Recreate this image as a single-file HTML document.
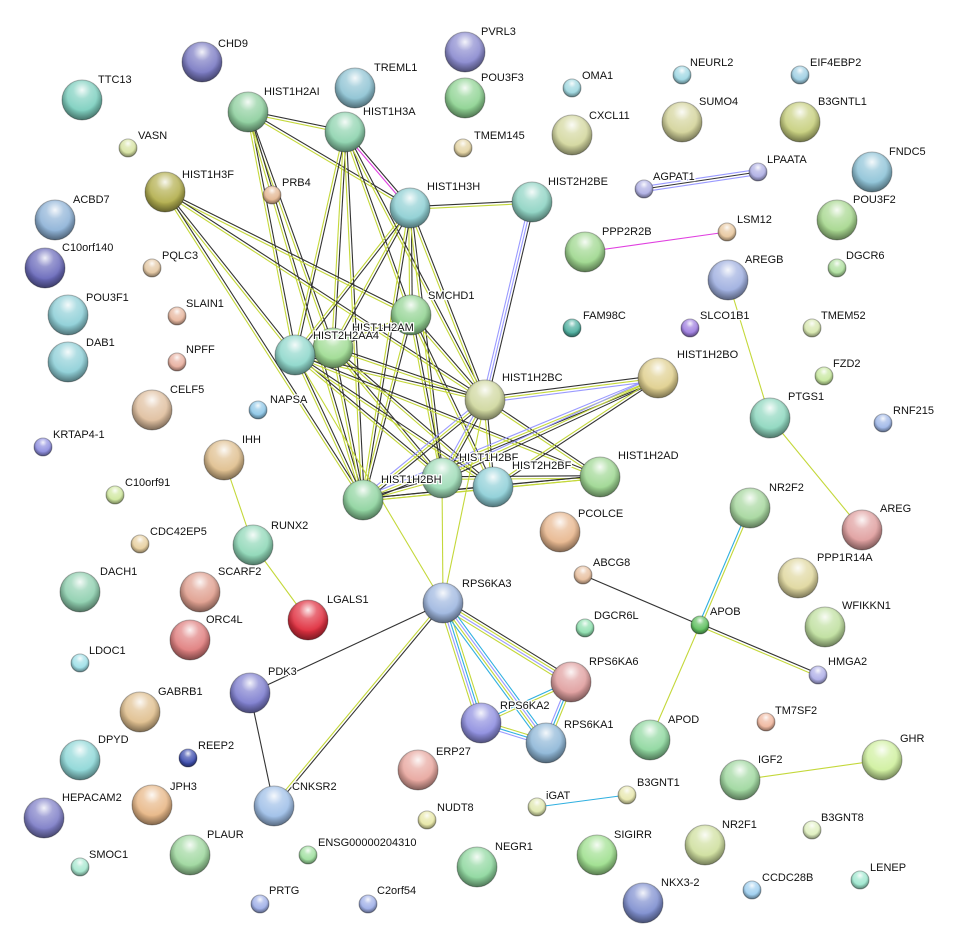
<!DOCTYPE html>
<html><head><meta charset="utf-8">
<style>
html,body{margin:0;padding:0;background:#fff;}
svg{display:block;}
text{font-family:"Liberation Sans",sans-serif;font-size:11px;fill:#111;stroke:#fff;stroke-width:2.5px;paint-order:stroke;}
</style></head>
<body>
<svg id="s" width="954" height="949" viewBox="0 0 954 949" xmlns="http://www.w3.org/2000/svg">
<defs>
<radialGradient id="hl" cx="0.5" cy="0.25" r="0.55">
<stop offset="0" stop-color="#fff" stop-opacity="0.9"/>
<stop offset="0.4" stop-color="#fff" stop-opacity="0.3"/>
<stop offset="1" stop-color="#fff" stop-opacity="0"/>
</radialGradient>
<radialGradient id="sh" cx="0.5" cy="0.4" r="0.6">
<stop offset="0.6" stop-color="#000" stop-opacity="0"/>
<stop offset="1" stop-color="#000" stop-opacity="0.45"/>
</radialGradient>
</defs>
<g id="edges"></g>
<g id="nodes"></g>
<g id="labels">
<text x="218" y="47">CHD9</text>
<text x="481" y="35">PVRL3</text>
<text x="98" y="83">TTC13</text>
<text x="374" y="71">TREML1</text>
<text x="481" y="81">POU3F3</text>
<text x="582" y="79">OMA1</text>
<text x="690" y="66">NEURL2</text>
<text x="810" y="66">EIF4EBP2</text>
<text x="264" y="95">HIST1H2AI</text>
<text x="363" y="115">HIST1H3A</text>
<text x="138" y="139">VASN</text>
<text x="474" y="139">TMEM145</text>
<text x="589" y="119">CXCL11</text>
<text x="699" y="105">SUMO4</text>
<text x="818" y="105">B3GNTL1</text>
<text x="889" y="155">FNDC5</text>
<text x="182" y="178">HIST1H3F</text>
<text x="282" y="186">PRB4</text>
<text x="427" y="190">HIST1H3H</text>
<text x="548" y="185">HIST2H2BE</text>
<text x="653" y="180">AGPAT1</text>
<text x="767" y="163">LPAATA</text>
<text x="73" y="203">ACBD7</text>
<text x="853" y="203">POU3F2</text>
<text x="602" y="235">PPP2R2B</text>
<text x="737" y="223">LSM12</text>
<text x="62" y="251">C10orf140</text>
<text x="162" y="259">PQLC3</text>
<text x="846" y="259">DGCR6</text>
<text x="745" y="263">AREGB</text>
<text x="86" y="301">POU3F1</text>
<text x="186" y="307">SLAIN1</text>
<text x="428" y="299">SMCHD1</text>
<text x="583" y="319">FAM98C</text>
<text x="700" y="319">SLCO1B1</text>
<text x="821" y="319">TMEM52</text>
<text x="352" y="331">HIST1H2AM</text>
<text x="313" y="339">HIST2H2AA4</text>
<text x="86" y="346">DAB1</text>
<text x="186" y="353">NPFF</text>
<text x="677" y="358">HIST1H2BO</text>
<text x="833" y="367">FZD2</text>
<text x="502" y="381">HIST1H2BC</text>
<text x="170" y="393">CELF5</text>
<text x="270" y="403">NAPSA</text>
<text x="788" y="400">PTGS1</text>
<text x="893" y="414">RNF215</text>
<text x="53" y="438">KRTAP4-1</text>
<text x="242" y="443">IHH</text>
<text x="459" y="461">HIST1H2BF</text>
<text x="381" y="483">HIST1H2BH</text>
<text x="512" y="469">HIST2H2BF</text>
<text x="618" y="459">HIST1H2AD</text>
<text x="769" y="491">NR2F2</text>
<text x="880" y="512">AREG</text>
<text x="125" y="486">C10orf91</text>
<text x="271" y="529">RUNX2</text>
<text x="150" y="535">CDC42EP5</text>
<text x="578" y="517">PCOLCE</text>
<text x="817" y="561">PPP1R14A</text>
<text x="100" y="575">DACH1</text>
<text x="218" y="575">SCARF2</text>
<text x="327" y="603">LGALS1</text>
<text x="593" y="566">ABCG8</text>
<text x="462" y="587">RPS6KA3</text>
<text x="710" y="615">APOB</text>
<text x="842" y="609">WFIKKN1</text>
<text x="594" y="619">DGCR6L</text>
<text x="206" y="623">ORC4L</text>
<text x="89" y="654">LDOC1</text>
<text x="589" y="665">RPS6KA6</text>
<text x="828" y="665">HMGA2</text>
<text x="268" y="675">PDK3</text>
<text x="158" y="695">GABRB1</text>
<text x="500" y="709">RPS6KA2</text>
<text x="564" y="728">RPS6KA1</text>
<text x="775" y="714">TM7SF2</text>
<text x="668" y="723">APOD</text>
<text x="98" y="743">DPYD</text>
<text x="198" y="749">REEP2</text>
<text x="900" y="742">GHR</text>
<text x="436" y="755">ERP27</text>
<text x="758" y="763">IGF2</text>
<text x="170" y="790">JPH3</text>
<text x="62" y="801">HEPACAM2</text>
<text x="292" y="790">CNKSR2</text>
<text x="546" y="799">iGAT</text>
<text x="637" y="786">B3GNT1</text>
<text x="437" y="811">NUDT8</text>
<text x="821" y="821">B3GNT8</text>
<text x="614" y="838">SIGIRR</text>
<text x="722" y="828">NR2F1</text>
<text x="207" y="838">PLAUR</text>
<text x="318" y="846">ENSG00000204310</text>
<text x="495" y="850">NEGR1</text>
<text x="89" y="858">SMOC1</text>
<text x="870" y="871">LENEP</text>
<text x="762" y="881">CCDC28B</text>
<text x="661" y="886">NKX3-2</text>
<text x="269" y="894">PRTG</text>
<text x="377" y="894">C2orf54</text>
</g>
</svg>
<script>
var N={
CHD9:[202,62,20,'#7c7cc4'],PVRL3:[465,52,20,'#8c8cd0'],TTC13:[82,100,20,'#7fd0c0'],TREML1:[355,88,20,'#90c4d4'],
POU3F3:[465,98,20,'#90d494'],OMA1:[572,88,9,'#a0d8e0'],NEURL2:[682,75,9,'#a0d8e4'],EIF4EBP2:[800,75,9,'#a0d0e4'],
H2AI:[248,112,20,'#90d0a0'],H3A:[345,132,20,'#90d4b0'],VASN:[128,148,9,'#d8e4a4'],TMEM145:[463,148,9,'#e4d4a4'],
CXCL11:[572,135,20,'#d4d8a0'],SUMO4:[682,122,20,'#d4d49c'],B3GNTL1:[800,122,20,'#c8d080'],FNDC5:[872,172,20,'#90c4d8'],
H3F:[165,192,20,'#b4b050'],PRB4:[272,195,9,'#e4b894'],H3H:[410,208,20,'#90d0d4'],H2BE:[532,202,20,'#90d4c4'],
AGPAT1:[644,189,9,'#b0b0e4'],LPAATA:[758,172,9,'#b0b0e4'],ACBD7:[55,220,20,'#90b4d8'],POU3F2:[837,220,20,'#a8d890'],
PPP2R2B:[585,252,20,'#a0d890'],LSM12:[727,232,9,'#e8c8a0'],C10orf140:[45,268,20,'#6c6cbc'],PQLC3:[152,268,9,'#e4c8a4'],
DGCR6:[837,268,9,'#b0e0a0'],AREGB:[728,280,20,'#a0b0e0'],POU3F1:[68,315,20,'#90d0d8'],SLAIN1:[177,316,9,'#e8b8a0'],
SMCHD1:[411,315,20,'#94d494'],FAM98C:[572,328,9,'#50b0a0'],SLCO1B1:[690,328,9,'#a080e0'],TMEM52:[812,328,9,'#d8e8b0'],
H2AM:[333,348,20,'#a0dc94'],H2AA4:[295,355,20,'#90d8cc'],DAB1:[68,362,20,'#90d0d8'],NPFF:[177,362,9,'#e8b0a0'],
H2BO:[658,378,20,'#e0d090'],FZD2:[824,376,9,'#c8e8a0'],H2BC:[485,400,20,'#d0d8a0'],CELF5:[152,410,20,'#e0c0a0'],
NAPSA:[258,410,9,'#90c8e8'],PTGS1:[770,418,20,'#90d8c0'],RNF215:[883,423,9,'#a0b8e8'],KRTAP4:[43,447,9,'#9090e0'],
IHH:[224,460,20,'#e0c090'],H2BF:[442,478,20,'#a0dcb8'],H2BH:[363,500,20,'#90d4a0'],H2BF2:[493,487,20,'#90d0d8'],
H2AD:[600,477,20,'#a0d894'],NR2F2:[750,508,20,'#a8d8a0'],AREG:[862,530,20,'#e0a0a0'],C10orf91:[115,495,9,'#d0e8a0'],
RUNX2:[253,545,20,'#90d8b8'],CDC42EP5:[140,544,9,'#e8d0a0'],PCOLCE:[560,532,20,'#e8b890'],PPP1R14A:[798,578,20,'#e0d8a0'],
DACH1:[80,592,20,'#90d0b0'],SCARF2:[200,592,20,'#e0a090'],LGALS1:[308,620,20,'#e03040'],ABCG8:[583,575,9,'#e8c0a0'],
RPS6KA3:[443,603,20,'#a0b8e0'],APOB:[700,625,9,'#60c060'],WFIKKN1:[825,627,20,'#c0e0a0'],DGCR6L:[585,628,9,'#90e0b0'],
ORC4L:[190,640,20,'#e08080'],LDOC1:[80,663,9,'#a0e0e8'],RPS6KA6:[571,682,20,'#e0a0a0'],HMGA2:[818,675,9,'#b0b0e8'],
PDK3:[250,693,20,'#8080d0'],GABRB1:[140,712,20,'#e0c090'],RPS6KA2:[481,723,20,'#9090e0'],RPS6KA1:[546,743,20,'#90b8d8'],
TM7SF2:[766,722,9,'#f0b8a0'],APOD:[650,740,20,'#90d8a0'],DPYD:[80,760,20,'#90d8d8'],REEP2:[188,758,9,'#4050b0'],
GHR:[882,760,20,'#d0f0a0'],ERP27:[418,770,20,'#e8a8a0'],IGF2:[740,780,20,'#a0d8a0'],JPH3:[152,805,20,'#e8b888'],
HEPACAM2:[44,818,20,'#8080c8'],CNKSR2:[274,806,20,'#a0c0e8'],iGAT:[537,807,9,'#e0e8b0'],B3GNT1:[627,795,9,'#e8e8b0'],
NUDT8:[427,820,9,'#e8e8a8'],B3GNT8:[812,830,9,'#e0f0c0'],SIGIRR:[597,855,20,'#a0e090'],NR2F1:[705,845,20,'#d0e0a0'],
PLAUR:[190,855,20,'#a0d8a0'],ENSG:[308,855,9,'#a0e0a0'],NEGR1:[477,867,20,'#90d8a0'],SMOC1:[80,867,9,'#a8e8d0'],
LENEP:[860,880,9,'#a0e8d0'],CCDC28B:[752,890,9,'#a0d0f0'],NKX3:[643,903,20,'#8090d0'],PRTG:[260,904,9,'#a0b0e8'],
C2orf54:[368,904,9,'#a0b0e8']};
var C={k:'#333',y:'#c4d83a',b:'#9a9aff',c:'#30b0e0',m:'#e040e0'};
var E=[
['H2AI','H3A','ky'],['H2AI','H3H','ky'],['H2AI','H2AA4','ky'],['H2AI','H2AM','ky'],['H2AI','H2BH','ky'],
['H3A','H3H','km'],['H3A','H2AA4','ky'],['H3A','H2AM','ky'],['H3A','SMCHD1','ky'],['H3A','H2BC','ky'],['H3A','H2BH','ky'],
['H3F','H2AA4','ky'],['H3F','SMCHD1','ky'],['H3F','H2BC','ky'],['H3F','H2BH','ky'],
['H3H','H2BE','ky'],['H3H','H2AA4','ky'],['H3H','H2AM','ky'],['H3H','SMCHD1','ky'],['H3H','H2BH','ky'],['H3H','H2BC','ky'],['H3H','H2BF','ky'],
['H2BE','H2BC','kbb'],
['SMCHD1','H2AM','ky'],['SMCHD1','H2BC','ky'],['SMCHD1','H2BF','ky'],['SMCHD1','H2BH','ky'],['SMCHD1','H2BF2','ky'],
['H2AM','H2BC','ky'],['H2AM','H2BH','ky'],['H2AM','H2BF','ky'],['H2AM','H2BF2','ky'],['H2AA4','H2AM','ky'],
['H2AA4','H2BC','ky'],['H2AA4','H2BH','ky'],['H2AA4','H2BF','ky'],['H2AA4','H2BF2','ky'],['H2AA4','H2AD','ky'],
['H2BC','H2BO','kyb'],['H2BC','H2BH','kyb'],['H2BC','H2BF','kyb'],['H2BC','H2BF2','ky'],['H2BC','H2AD','ky'],
['H2BO','H2BH','kyb'],['H2BO','H2BF','kyb'],['H2BO','H2BF2','ky'],
['H2BH','H2BF','ky'],['H2BH','H2BF2','ky'],['H2BH','H2AD','ky'],['H2BF','H2AD','ky'],['H2BF2','H2AD','ky'],
['RPS6KA3','H2BC','y'],['RPS6KA3','H2BF','y'],['RPS6KA3','H2AA4','y'],
['RPS6KA3','RPS6KA6','kyby'],['RPS6KA3','RPS6KA2','ycby'],['RPS6KA3','RPS6KA1','cbyc'],
['RPS6KA6','RPS6KA2','yc'],['RPS6KA6','RPS6KA1','ycb'],['RPS6KA2','RPS6KA1','ycb'],
['RPS6KA3','PDK3','k'],['RPS6KA3','CNKSR2','ky'],['PDK3','CNKSR2','k'],
['IHH','RUNX2','y'],['RUNX2','LGALS1','y'],['AGPAT1','LPAATA','bkb'],['PPP2R2B','LSM12','m'],
['AREGB','PTGS1','y'],['PTGS1','AREG','y'],['APOB','ABCG8','k'],['APOB','HMGA2','ky'],['APOB','NR2F2','cy'],
['APOB','APOD','y'],['IGF2','GHR','y'],['iGAT','B3GNT1','c']];
var ns='http://www.w3.org/2000/svg',eg=document.getElementById('edges'),ng=document.getElementById('nodes');
E.forEach(function(e){var a=N[e[0]],b=N[e[1]],dx=b[0]-a[0],dy=b[1]-a[1],L=Math.hypot(dx,dy),px=-dy/L,py=dx/L,n=e[2].length;
for(var i=0;i<n;i++){var o=(i-(n-1)/2)*2.6;var l=document.createElementNS(ns,'line');
l.setAttribute('x1',a[0]+px*o);l.setAttribute('y1',a[1]+py*o);l.setAttribute('x2',b[0]+px*o);l.setAttribute('y2',b[1]+py*o);
l.setAttribute('stroke',C[e[2][i]]);l.setAttribute('stroke-width','1.1');eg.appendChild(l);}});
for(var k in N){var d=N[k];
[['fill',d[3]],['fill','url(#sh)'],['fill','url(#hl)']].forEach(function(f,j){var c=document.createElementNS(ns,'circle');
c.setAttribute('cx',d[0]);c.setAttribute('cy',d[1]);c.setAttribute('r',d[2]);c.setAttribute('fill',f[1]);
if(j==0){c.setAttribute('stroke','rgba(0,0,0,0.3)');c.setAttribute('stroke-width','1');}ng.appendChild(c);});}
</script>
</body></html>
